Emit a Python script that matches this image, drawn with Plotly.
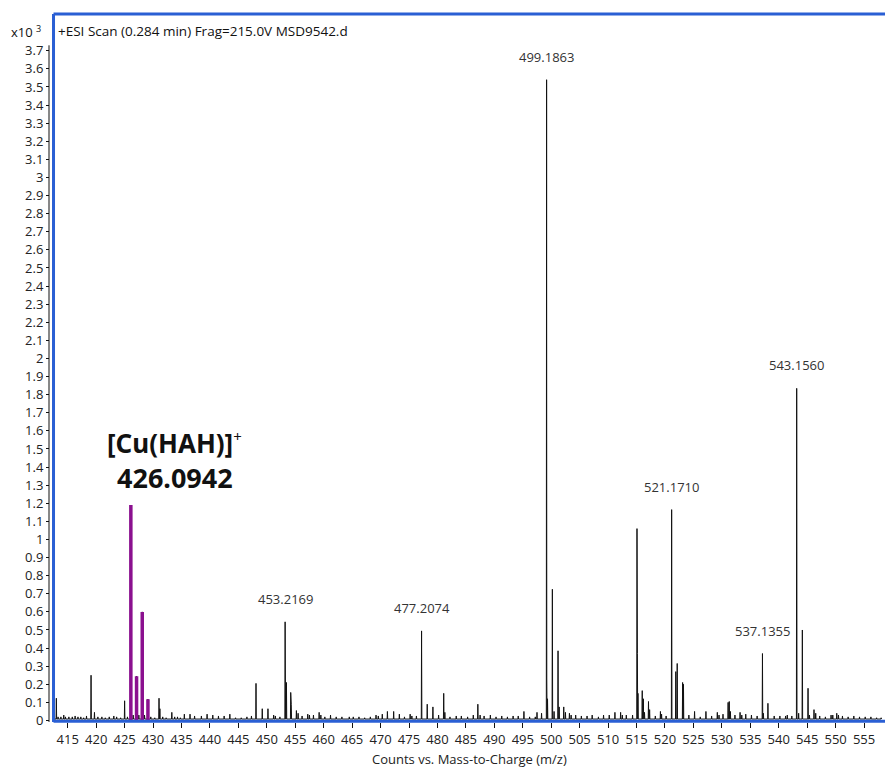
import plotly.graph_objects as go

# Labelled peaks: m/z, intensity (x10^3 counts), label text
label_mz = [453.2169, 477.2074, 499.1863, 521.1710, 537.1355, 543.1560]
label_h = [0.545, 0.495, 3.54, 1.165, 0.37, 1.835]
label_txt = ["453.2169", "477.2074", "499.1863", "521.1710", "537.1355", "543.1560"]

# Other resolved peaks (m/z, intensity x10^3)
peak_mz = [413.0, 419.1, 425.0, 431.05, 431.2, 448.1, 449.2, 450.2,
           453.25, 453.45, 454.2, 454.3, 455.2, 478.2, 479.2, 481.1, 481.3,
           487.1, 499.22, 499.35, 500.2, 501.2, 501.4, 502.2,
           515.08, 515.15, 515.25, 516.0, 516.2, 517.1, 517.3,
           521.9, 522.15, 523.1, 523.25, 531.1, 531.3, 538.1,
           544.15, 545.15, 546.2]
peak_h = [0.123, 0.25, 0.109, 0.123, 0.065, 0.205, 0.065, 0.065,
          0.40, 0.21, 0.155, 0.09, 0.055, 0.09, 0.075, 0.15, 0.045,
          0.09, 0.235, 0.12, 0.725, 0.385, 0.075, 0.075,
          1.06, 0.37, 0.15, 0.165, 0.12, 0.105, 0.06,
          0.27, 0.315, 0.21, 0.20, 0.10, 0.105, 0.095,
          0.50, 0.178, 0.06]

# Low-level baseline signals
grass_mz = [412.7, 413.3, 413.8, 414.3, 414.6, 415.2, 415.8, 416.3, 416.8, 417.3,
            417.8, 418.3, 419.7, 420.3, 421.0, 421.6, 422.3, 423.1, 423.6, 424.3,
            425.5, 426.5, 427.5, 428.5, 429.6, 430.3, 431.7, 432.3, 433.3, 433.8,
            434.3, 434.8, 435.5, 436.5, 437.3, 438.5, 439.5, 440.5, 441.5, 442.5,
            443.5, 444.5, 445.5, 446.5, 447.3, 451.2, 451.5, 452.3, 455.5, 456.2,
            457.2, 457.5, 458.2, 459.2, 459.5, 460.2, 461.2, 462.2, 463.2, 464.5,
            465.2, 466.2, 467.2, 468.2, 469.2, 469.6, 470.3, 471.2, 472.3, 473.3,
            474.2, 475.2, 475.5, 476.3, 480.2, 482.2, 483.3, 484.2, 485.3, 486.3,
            487.5, 488.2, 489.3, 490.3, 491.3, 492.3, 493.3, 494.2, 495.2, 496.2,
            497.2, 497.5, 498.3, 500.5, 502.5, 503.2, 503.5, 504.3, 505.3, 506.3,
            507.2, 508.3, 509.2, 510.2, 511.2, 512.2, 512.5, 513.2, 514.3, 516.4,
            518.3, 519.2, 519.4, 520.2, 524.2, 525.2, 526.2, 527.2, 528.2, 529.2,
            529.5, 530.2, 531.5, 532.3, 533.2, 533.5, 534.2, 535.2, 536.2, 537.3,
            539.2, 540.2, 541.2, 541.5, 542.3, 543.5, 545.4, 546.5, 547.2, 548.2,
            549.2, 549.5, 550.2, 550.5, 551.2, 552.2, 553.2, 554.2, 555.2, 556.2,
            557.2, 558.0]
grass_h = [0.010, 0.020, 0.020, 0.030, 0.020, 0.020, 0.020, 0.025, 0.020, 0.020,
           0.015, 0.025, 0.045, 0.020, 0.020, 0.015, 0.020, 0.025, 0.020, 0.015,
           0.020, 0.030, 0.030, 0.030, 0.020, 0.015, 0.020, 0.015, 0.045, 0.020,
           0.020, 0.015, 0.035, 0.035, 0.025, 0.025, 0.035, 0.030, 0.025, 0.025,
           0.035, 0.015, 0.015, 0.020, 0.025, 0.030, 0.025, 0.020, 0.040, 0.025,
           0.035, 0.030, 0.030, 0.045, 0.030, 0.020, 0.030, 0.020, 0.020, 0.020,
           0.020, 0.020, 0.015, 0.020, 0.030, 0.025, 0.035, 0.050, 0.050, 0.035,
           0.020, 0.035, 0.025, 0.025, 0.030, 0.020, 0.025, 0.025, 0.020, 0.030,
           0.030, 0.025, 0.030, 0.020, 0.025, 0.020, 0.025, 0.025, 0.050, 0.020,
           0.020, 0.045, 0.040, 0.050, 0.045, 0.040, 0.030, 0.030, 0.025, 0.025,
           0.030, 0.020, 0.030, 0.030, 0.045, 0.045, 0.030, 0.030, 0.030, 0.045,
           0.025, 0.050, 0.035, 0.025, 0.030, 0.050, 0.020, 0.050, 0.025, 0.045,
           0.030, 0.035, 0.050, 0.030, 0.045, 0.030, 0.035, 0.030, 0.025, 0.040,
           0.025, 0.025, 0.025, 0.030, 0.025, 0.040, 0.030, 0.040, 0.025, 0.020,
           0.030, 0.030, 0.040, 0.030, 0.025, 0.020, 0.025, 0.020, 0.020, 0.020,
           0.015, 0.015]

# Copper complex isotope cluster (highlighted)
cu_mz = [426.0942, 427.1, 428.1, 429.1]
cu_h = [1.19, 0.245, 0.60, 0.118]
cu_name = "[Cu(HAH)]<sup><span style='font-size:15px;font-weight:normal'>+</span></sup>"
cu_label = "426.0942"

x_ticks = list(range(415, 556, 5))
y_ticks = [round(i * 0.1, 1) for i in range(38)]
y_ticktext = [("%g" % v) for v in y_ticks]

BASE = 0.008
HALF = 0.05

# Assemble a profile-like trace from the peak lists
all_peaks = sorted(zip(label_mz + peak_mz + grass_mz + cu_mz,
                       label_h + peak_h + grass_h + cu_h))
xs, ys = [], []
for m, h in all_peaks:
    xs += [m - HALF, m, m + HALF]
    ys += [BASE, h, BASE]

fig = go.Figure()
fig.add_trace(go.Scatter(x=xs, y=ys, mode="lines",
                         line=dict(color="#111111", width=1),
                         hoverinfo="skip", showlegend=False))

# Purple isotope bars
px, py = [], []
for m, h in zip(cu_mz, cu_h):
    px += [m, m, None]
    py += [0, h, None]
fig.add_trace(go.Scatter(x=px, y=py, mode="lines",
                         line=dict(color="#8b108f", width=3.5),
                         hoverinfo="skip", showlegend=False))

FONT = "Open Sans, Noto Sans, sans-serif"
BOLD = "Noto Sans, Open Sans, sans-serif"

for m, h, t in zip(label_mz, label_h, label_txt):
    fig.add_annotation(x=m, y=h, text=t, showarrow=False, xref="x", yref="y",
                       yanchor="bottom", yshift=12,
                       font=dict(family=FONT, size=13, color="#333333"))

# Bold two-line label for the copper complex
fig.add_annotation(x=cu_mz[0], y=cu_h[0], xref="x", yref="y", showarrow=False,
                   text=cu_name, xanchor="center", yanchor="middle",
                   xshift=44, yshift=62,
                   font=dict(family=BOLD, size=26, color="#111111", weight="bold"))
fig.add_annotation(x=cu_mz[0], y=cu_h[0], xref="x", yref="y", showarrow=False,
                   text=cu_label, xanchor="center", yanchor="middle",
                   xshift=44, yshift=28,
                   font=dict(family=BOLD, size=27, color="#111111", weight="bold"))

fig.add_annotation(x=0.0054, y=1, xref="paper", yref="paper", showarrow=False,
                   text="+ESI Scan (0.284 min) Frag=215.0V MSD9542.d",
                   xanchor="left", yanchor="middle", xshift=2, yshift=-17,
                   font=dict(family=FONT, size=13.5, color="#111111"))

fig.add_annotation(x=0, y=1, xref="paper", yref="paper", showarrow=False,
                   text="x10 <sup>3</sup>", xanchor="right", yanchor="middle",
                   xshift=-6, yshift=-17,
                   font=dict(family=FONT, size=13, color="#111111"))

fig.add_annotation(x=0.5027, y=0, xref="paper", yref="paper", showarrow=False,
                   text="Counts vs. Mass-to-Charge (m/z)",
                   xanchor="center", yanchor="middle", yshift=-37,
                   font=dict(family=FONT, size=13, color="#222222"))

BLUE = "#2a5fd4"
shapes = [
    dict(type="line", xref="paper", yref="paper", x0=0.0054, x1=1.0, y0=1, y1=1,
         line=dict(color=BLUE, width=3)),
    dict(type="line", xref="paper", yref="paper", x0=0.0054, x1=1.0, y0=0.001, y1=0.001,
         line=dict(color=BLUE, width=3)),
    dict(type="line", xref="paper", yref="paper", x0=0.0054, x1=0.0054, y0=0, y1=1,
         line=dict(color=BLUE, width=3)),
    dict(type="line", xref="paper", yref="y", x0=0, x1=0, y0=-0.008, y1=3.73,
         line=dict(color="#111111", width=1)),
]

fig.update_layout(
    width=885, height=767,
    margin=dict(l=49, r=0, t=14, b=45),
    paper_bgcolor="white", plot_bgcolor="white",
    shapes=shapes,
    xaxis=dict(domain=[0.0054, 1.0], range=[412.5, 558.68],
               tickvals=x_ticks, ticktext=[str(v) for v in x_ticks],
               ticks="outside", ticklen=5, tickcolor="#111111", tickwidth=1,
               showgrid=False, zeroline=False, showline=False,
               tickfont=dict(family=FONT, size=13, color="#222222")),
    yaxis=dict(anchor="free", position=0, range=[-0.0083, 3.903],
               tickvals=y_ticks, ticktext=y_ticktext,
               ticks="outside", ticklen=3, tickcolor="#111111", tickwidth=1,
               showgrid=False, zeroline=False, showline=False,
               tickfont=dict(family=FONT, size=13, color="#222222")),
)

fig.write_html("out.html")
